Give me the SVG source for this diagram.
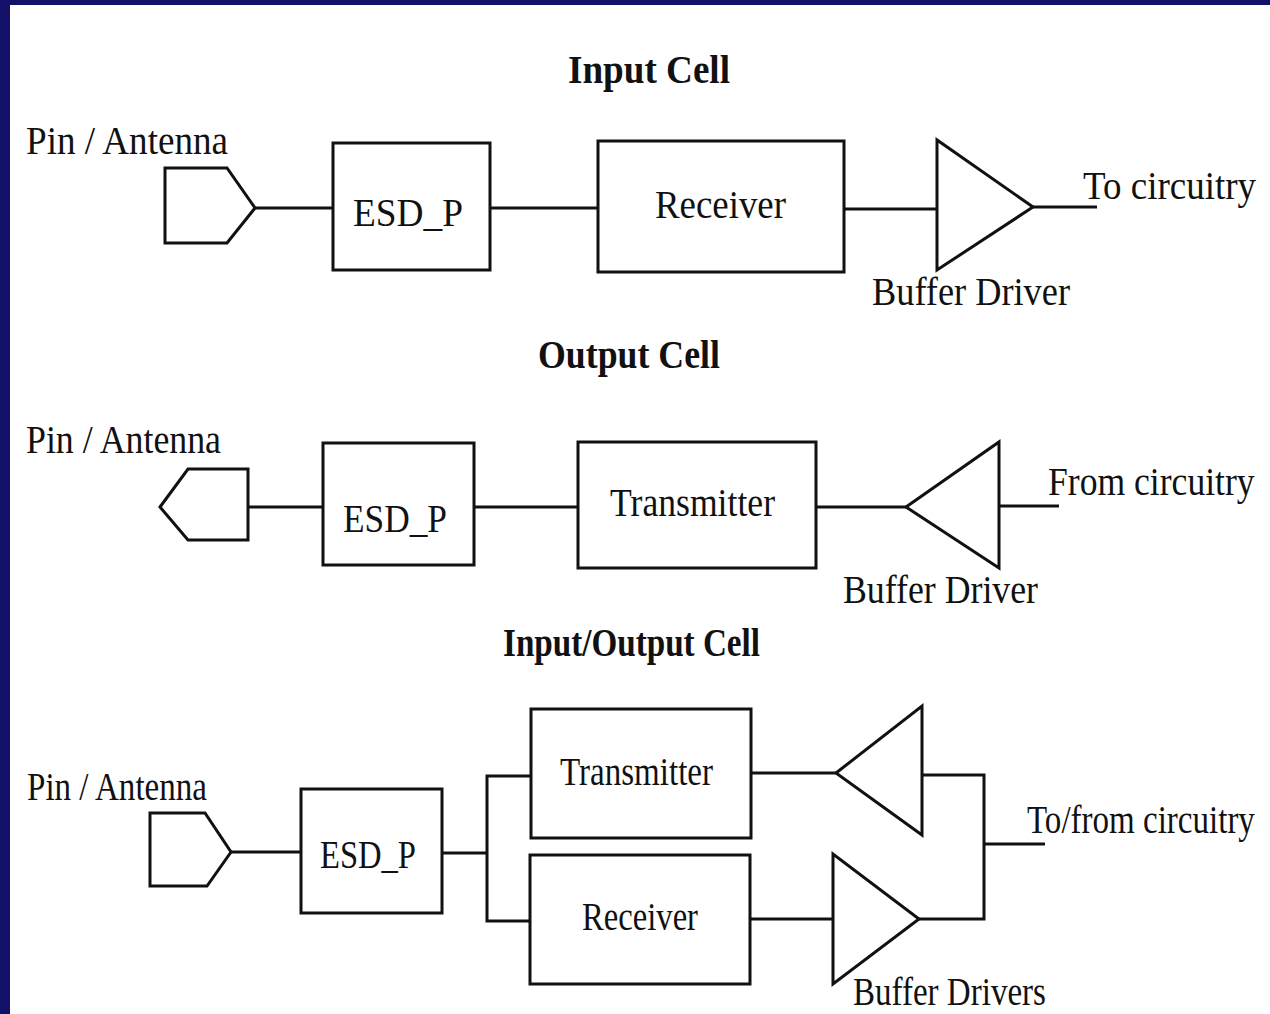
<svg xmlns="http://www.w3.org/2000/svg" width="1270" height="1014" viewBox="0 0 1270 1014">
<style>
.w{fill:none;stroke:#111;stroke-width:3;stroke-linejoin:miter}
.b{fill:#fff;stroke:#111;stroke-width:3}
.t{font-family:"Liberation Serif","Times New Roman",serif;fill:#111;font-size:40px}
.h{font-family:"Liberation Serif","Times New Roman",serif;fill:#111;font-size:40px;font-weight:bold}
</style>
<rect x="0" y="0" width="1270" height="1014" fill="#fff"/>
<rect x="0" y="0" width="1270" height="5" fill="#13106a"/>
<rect x="0" y="0" width="10" height="1014" fill="#13106a"/>

<g id="connectors">
  <polyline class="w" points="255,208 333,208"/>
  <polyline class="w" points="490,208 598,208"/>
  <polyline class="w" points="844,209 937,209"/>
  <polyline class="w" points="1033,207 1097,207"/>

  <polyline class="w" points="248,507 323,507"/>
  <polyline class="w" points="474,507 578,507"/>
  <polyline class="w" points="816,507 906,507"/>
  <polyline class="w" points="999,506 1059,506"/>

  <polyline class="w" points="231,852 301,852"/>
  <polyline class="w" points="442,853 487,853"/>
  <polyline class="w" points="531,776 487,776 487,921 531,921"/>
  <polyline class="w" points="751,773 836,773"/>
  <polyline class="w" points="750,919 833,919"/>
  <polyline class="w" points="922,775 984,775 984,919 919,919"/>
  <polyline class="w" points="984,844 1045,844"/>
</g>

<g id="title-input"><text class="h" x="568" y="83" textLength="162" lengthAdjust="spacingAndGlyphs">Input Cell</text></g>
<g id="title-output"><text class="h" x="538" y="368" font-size="38" textLength="182" lengthAdjust="spacingAndGlyphs">Output Cell</text></g>
<g id="title-io"><text class="h" x="503" y="656" font-size="38" textLength="257" lengthAdjust="spacingAndGlyphs">Input/Output Cell</text></g>

<!-- Input cell -->
<g id="pin1">
  <polygon class="b" points="165,168 227,168 255,208 227,243 165,243"/>
  <text class="t" x="26" y="154" textLength="202" lengthAdjust="spacingAndGlyphs">Pin / Antenna</text>
</g>
<g id="esd1">
  <rect class="b" x="333" y="143" width="157" height="127"/>
  <text class="t" x="353" y="226" textLength="110" lengthAdjust="spacingAndGlyphs">ESD_P</text>
</g>
<g id="receiver1">
  <rect class="b" x="598" y="141" width="246" height="131"/>
  <text class="t" x="655" y="218" textLength="131" lengthAdjust="spacingAndGlyphs">Receiver</text>
</g>
<g id="buffer1">
  <polygon class="b" points="937,140 937,270 1033,207"/>
  <text class="t" x="872" y="305" textLength="198" lengthAdjust="spacingAndGlyphs">Buffer Driver</text>
</g>
<g id="out1">
  <text class="t" transform="translate(1083,199) scale(0.925,1)">To circuitry</text>
</g>

<!-- Output cell -->
<g id="pin2">
  <polygon class="b" points="160,507 188,469 248,469 248,540 188,540"/>
  <text class="t" x="26" y="453" textLength="195" lengthAdjust="spacingAndGlyphs">Pin / Antenna</text>
</g>
<g id="esd2">
  <rect class="b" x="323" y="443" width="151" height="122"/>
  <text class="t" x="343" y="532" textLength="104" lengthAdjust="spacingAndGlyphs">ESD_P</text>
</g>
<g id="transmitter2">
  <rect class="b" x="578" y="442" width="238" height="126"/>
  <text class="t" x="610" y="516" textLength="165" lengthAdjust="spacingAndGlyphs">Transmitter</text>
</g>
<g id="buffer2">
  <polygon class="b" points="906,507 999,442 999,568"/>
  <text class="t" x="843" y="603" textLength="195" lengthAdjust="spacingAndGlyphs">Buffer Driver</text>
</g>
<g id="in2">
  <text class="t" transform="translate(1048,495) scale(0.89,1)">From circuitry</text>
</g>

<!-- Input/Output cell -->
<g id="pin3">
  <polygon class="b" points="150,813 205,813 231,852 207,886 150,886"/>
  <text class="t" x="27" y="800" textLength="180" lengthAdjust="spacingAndGlyphs">Pin / Antenna</text>
</g>
<g id="esd3">
  <rect class="b" x="301" y="789" width="141" height="124"/>
  <text class="t" x="320" y="868" textLength="96" lengthAdjust="spacingAndGlyphs">ESD_P</text>
</g>
<g id="transmitter3">
  <rect class="b" x="531" y="709" width="220" height="129"/>
  <text class="t" x="560" y="785" textLength="153" lengthAdjust="spacingAndGlyphs">Transmitter</text>
</g>
<g id="receiver3">
  <rect class="b" x="530" y="855" width="220" height="129"/>
  <text class="t" x="582" y="930" textLength="116" lengthAdjust="spacingAndGlyphs">Receiver</text>
</g>
<g id="buffer3a">
  <polygon class="b" points="836,773 922,706 922,835"/>
</g>
<g id="buffer3b">
  <polygon class="b" points="833,854 833,984 919,919"/>
  <text class="t" font-size="38" transform="translate(853,1005) scale(0.826,1)">Buffer Drivers</text>
</g>
<g id="io3">
  <text class="t" transform="translate(1027,833) scale(0.826,1)">To/from circuitry</text>
</g>
</svg>
